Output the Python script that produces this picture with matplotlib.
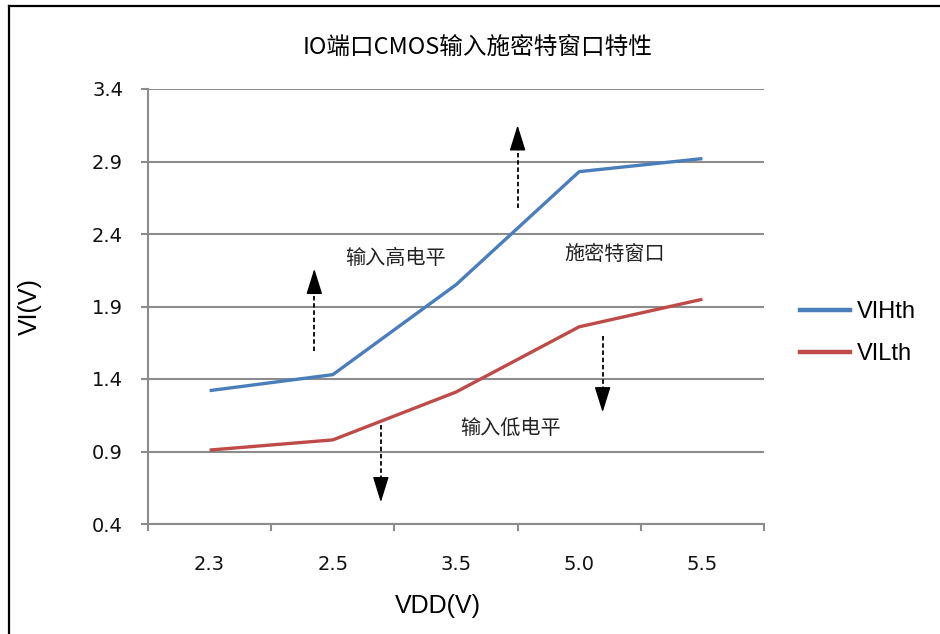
import matplotlib.pyplot as plt
from matplotlib.lines import Line2D

plt.rcParams['font.family'] = ['Liberation Sans', 'Noto Sans CJK SC', 'DejaVu Sans']

# data
vdd = ['2.3', '2.5', '3.5', '5.0', '5.5']
vih = [1.32, 1.43, 2.05, 2.83, 2.92]
vil = [0.91, 0.98, 1.31, 1.76, 1.95]

# annotation arrows (x index, tail y, tip y)
arrows_x = [0.85, 2.50, 3.19, 1.39]
arrows_from = [1.59, 2.58, 1.70, 1.08]
arrows_to = [2.16, 3.15, 1.17, 0.55]
head = 0.15

labels = ['输入高电平', '施密特窗口', '输入低电平']
labels_x = [1.51, 3.29, 2.44]
labels_y = [2.23, 2.26, 1.06]

grid_c = '#8c8c8c'

fig = plt.figure(figsize=(9.4, 6.34), dpi=100)
ax = fig.add_axes([148/940, 1-524/634, (764-148)/940, (524-89)/634])

x = list(range(len(vdd)))
ax.plot(x, vih, color='#4a7ebb', lw=2.4, label='VIHth', solid_capstyle='butt')
ax.plot(x, vil, color='#be4b48', lw=2.4, label='VILth', solid_capstyle='butt')

ax.set_xlim(-0.5, 4.5)
ax.set_ylim(0.4, 3.4)
ax.set_yticks([0.4, 0.9, 1.4, 1.9, 2.4, 2.9, 3.4])
ax.set_yticklabels(['0.4', '0.9', '1.4', '1.9', '2.4', '2.9', '3.4'])
ax.set_xticks(x)
ax.set_xticklabels(vdd)
ax.set_xticks([i - 0.5 for i in range(len(vdd) + 1)], minor=True)

ax.grid(axis='y', color=grid_c, lw=1.5)
ax.set_axisbelow(True)
for s in ['top', 'right']:
    ax.spines[s].set_visible(False)
ax.spines['left'].set_color(grid_c)
ax.spines['left'].set_linewidth(1.5)
ax.spines['bottom'].set_color(grid_c)
ax.spines['bottom'].set_linewidth(1.5)

ax.tick_params(axis='y', colors=grid_c, length=5, width=1.5, pad=13,
               labelcolor='#111111', labelsize=14)
ax.tick_params(axis='x', which='major', length=0, pad=22,
               labelcolor='#111111', labelsize=14)
ax.tick_params(axis='x', which='minor', colors=grid_c, length=5, width=1.5)
for t in ax.get_xticklabels() + ax.get_yticklabels():
    t.set_family('DejaVu Sans')

ax.set_xlabel('VDD(V)', fontsize=18)
ax.set_ylabel('VI(V)', fontsize=18)
ax.yaxis.set_label_coords(-0.172, 0.5)
ax.xaxis.set_label_coords(0.47, -0.16)

for xa, y0, y1 in zip(arrows_x, arrows_from, arrows_to):
    base = y1 - head if y1 > y0 else y1 + head
    ax.plot([xa, xa], [y0, base], color='black', lw=1.3,
            linestyle=(0, (2.5, 1.5)), clip_on=False)
    ax.annotate('', xy=(xa, y1), xytext=(xa, base), annotation_clip=False,
                arrowprops=dict(arrowstyle='-|>,head_length=1.6,head_width=0.5',
                                color='black', lw=1, shrinkA=0, shrinkB=0))

for t, tx, ty in zip(labels, labels_x, labels_y):
    ax.text(tx, ty, t, fontsize=14.5, ha='center', va='center',
            family=['Noto Sans CJK SC'], fontweight='light', color='#222222')

fig.text(0.508, 1-47/634, 'IO端口CMOS输入施密特窗口特性', fontsize=17,
         ha='center', va='center', family=['Liberation Sans Narrow', 'Noto Sans CJK SC'])

handles = [Line2D([], [], color='#4a7ebb', lw=3.2), Line2D([], [], color='#be4b48', lw=3.2)]
fig.legend(handles, ['VIHth', 'VILth'], loc='center left',
           bbox_to_anchor=(800/940, 1-333/634), frameon=False, fontsize=17,
           handlelength=2.1, handletextpad=0.3, labelspacing=0.85,
           borderpad=0, borderaxespad=0)

# outer frame (left and top edges)
fig.add_artist(Line2D([9/940, 9/940], [0, 1-6/634], color='black', lw=1.6,
                      transform=fig.transFigure))
fig.add_artist(Line2D([9/940, 1], [1-6/634, 1-6/634], color='black', lw=1.6,
                      transform=fig.transFigure))

fig.savefig('out.png', dpi=100)
